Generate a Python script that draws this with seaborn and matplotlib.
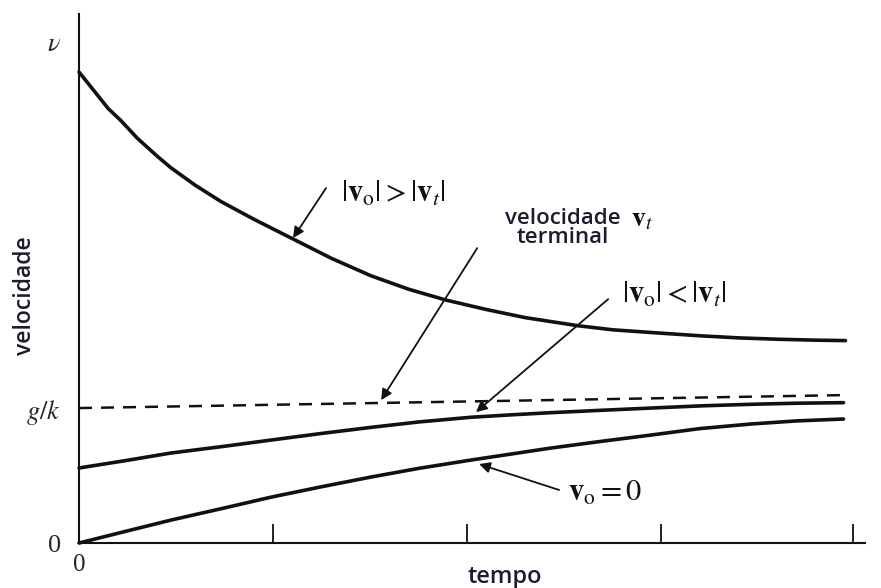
import numpy as np
import pandas as pd
import matplotlib
matplotlib.use("Agg")
import matplotlib.pyplot as plt
import seaborn as sns

# curves (time in tick units, velocity in g/k units)
t_fast = [0.0, 0.05, 0.10, 0.15, 0.216, 0.30, 0.40, 0.474, 0.60, 0.732, 0.90, 1.093,
          1.30, 1.505, 1.70, 1.892, 2.10, 2.30, 2.572, 2.75, 2.948, 3.206, 3.40, 3.60, 3.80, 3.95]
v_fast = [3.49, 3.40, 3.31, 3.22, 3.13, 3.00, 2.87, 2.78, 2.65, 2.53, 2.40, 2.26,
          2.11, 1.98, 1.88, 1.80, 1.73, 1.67, 1.61, 1.58, 1.56, 1.535, 1.52, 1.51, 1.503, 1.50]

t_slow = [0.0, 0.25, 0.474, 0.75, 0.99, 1.25, 1.505, 1.75, 2.021, 2.23, 2.433, 2.70,
          2.948, 3.20, 3.464, 3.70, 3.94]
v_slow = [0.556, 0.613, 0.667, 0.717, 0.763, 0.812, 0.857, 0.897, 0.932, 0.950, 0.966, 0.984,
          1.0, 1.016, 1.028, 1.036, 1.04]

t_rest = [0.0, 0.25, 0.474, 0.75, 0.99, 1.25, 1.505, 1.75, 2.021, 2.23, 2.433, 2.70,
          2.948, 3.20, 3.464, 3.70, 3.94]
v_rest = [0.0, 0.09, 0.17, 0.26, 0.34, 0.417, 0.489, 0.553, 0.615, 0.660, 0.704, 0.755,
          0.80, 0.848, 0.882, 0.905, 0.919]

t_term = [0.0, 3.94]
v_term = [1.0, 1.096]

x_ticks = [0, 1, 2, 3, 3.99]
x_labels = ["0", "", "", "", ""]
y_ticks = [0, 1, 3.71]
y_labels = ["0", r"$g/k$", r"$\nu$"]

sns.set_style("white")
plt.rcParams["font.family"] = ["Open Sans", "DejaVu Sans"]
plt.rcParams["mathtext.fontset"] = "stix"

ink = "#111111"
navy = "#1c1c30"

fig = plt.figure(figsize=(8.81, 5.88), dpi=100)
ax = fig.add_axes([0.0897, 0.0765, 0.892, 0.8997])

curves = pd.concat([
    pd.DataFrame({"t": t_fast, "v": v_fast, "caso": "rapido"}),
    pd.DataFrame({"t": t_slow, "v": v_slow, "caso": "lento"}),
    pd.DataFrame({"t": t_rest, "v": v_rest, "caso": "repouso"}),
])
sns.lineplot(data=curves, x="t", y="v", units="caso", estimator=None, sort=False,
             color=ink, lw=2.6, ax=ax, clip_on=False)
sns.lineplot(x=t_term, y=v_term, color=ink, lw=1.8, ax=ax, dashes=False,
             linestyle=(0, (5.2, 3.6)))

ax.set_xlim(0, 4.05)
ax.set_ylim(0, 3.92)
sns.despine(ax=ax)
for s in ["left", "bottom"]:
    ax.spines[s].set_color(ink)
    ax.spines[s].set_linewidth(1.5)

ax.set_xticks(x_ticks)
ax.set_xticklabels(x_labels, fontfamily="Liberation Serif", fontsize=18)
ax.tick_params(axis="x", bottom=True, direction="in", length=14, width=1.3,
               color=ink, pad=8)
ax.set_yticks(y_ticks)
ax.set_yticklabels(y_labels, fontsize=19)
ax.tick_params(axis="y", length=0, pad=13)
for lab in ax.get_yticklabels():
    lab.set_fontfamily("Liberation Serif")

ax.set_xlabel("")
ax.set_ylabel("")
fig.text(505 / 881, 1 - 577 / 588, "tempo", ha="center", va="center",
         fontsize=17, fontweight="semibold", color=navy)
fig.text(25 / 881, 1 - 296 / 588, "velocidade", ha="center", va="center",
         rotation=90, fontsize=16.5, fontweight="semibold", color=navy)

arrow = dict(arrowstyle="-|>", color=ink, lw=1.3, mutation_scale=16,
             shrinkA=0, shrinkB=0)
ax.annotate("", xy=(1.103, 2.26), xytext=(1.273, 2.63), arrowprops=arrow)
ax.annotate("", xy=(1.557, 1.059), xytext=(2.052, 2.185), arrowprops=arrow)
ax.annotate("", xy=(2.046, 0.970), xytext=(2.727, 1.807), arrowprops=arrow)
ax.annotate("", xy=(2.062, 0.585), xytext=(2.474, 0.393), arrowprops=arrow)

ax.text(1.62, 2.59, r"$|\mathbf{v}_\mathrm{o}| > |\mathbf{v}_t|$", ha="center",
        va="center", fontsize=22, color=ink)
ax.text(2.495, 2.333, "velocidade\nterminal", ha="center", va="center",
        fontsize=16, fontweight="semibold", color=navy, linespacing=0.9)
ax.text(2.90, 2.40, r"$\mathbf{v}_t$", ha="center", va="center",
        fontsize=20, color=ink)
ax.text(3.07, 1.837, r"$|\mathbf{v}_\mathrm{o}| < |\mathbf{v}_t|$", ha="center",
        va="center", fontsize=22, color=ink)
ax.text(2.71, 0.37, r"$\mathbf{v}_\mathrm{o} = 0$", ha="center", va="center",
        fontsize=22, color=ink)

fig.savefig("out.png", dpi=100)
